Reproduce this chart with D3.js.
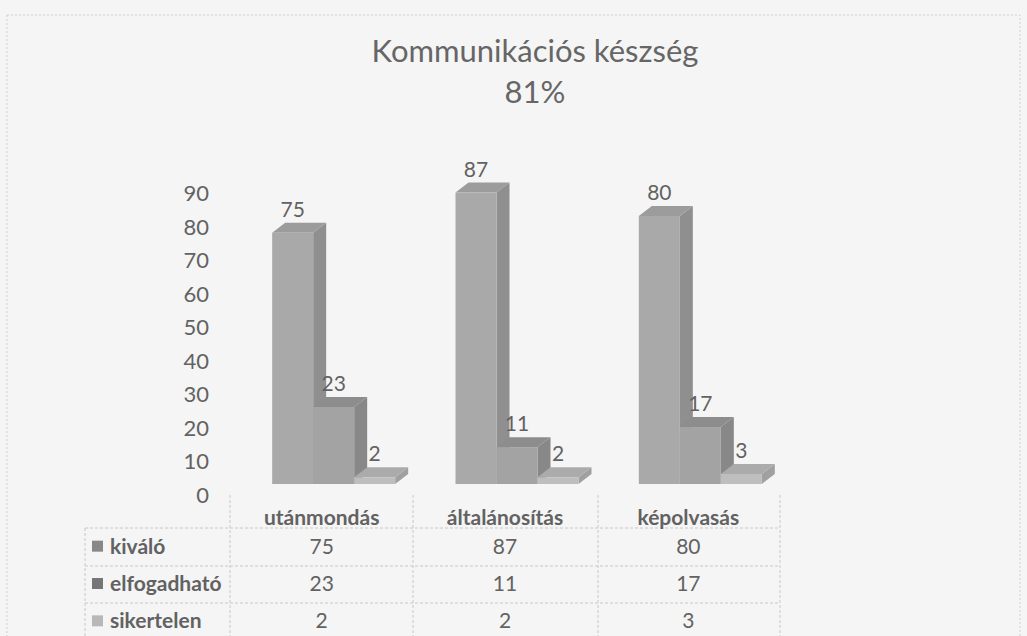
<!DOCTYPE html>
<html lang="hu">
<head>
    <meta charset="UTF-8">
    <title>Kommunikációs készség</title>
    <script src="https://d3js.org/d3.v7.min.js"></script>
    <style>
        body { margin: 0; background-color: #f5f5f5; }
        text { font-family: Lato, "Open Sans", sans-serif; fill: #626262; }
        .title { font-size: 31px; fill: #666; }
        .tick text { font-size: 22px; }
        .bar-label { font-size: 21px; }
        .table-text { font-size: 21px; }
        .table-head { font-weight: bold; }
        .grid-line { stroke: #c8c8c8; stroke-width: 1px; stroke-dasharray: 3,2; }
    </style>
</head>
<body>
    <svg width="1027" height="636"></svg>
    <script>
        // chart data
        const categories = ["utánmondás", "általánosítás", "képolvasás"];
        const seriesNames = ["kiváló", "elfogadható", "sikertelen"];
        const kivalo = [75, 87, 80];
        const elfogadhato = [23, 11, 17];
        const sikertelen = [2, 2, 3];
        const yTicks = [0, 10, 20, 30, 40, 50, 60, 70, 80, 90];
        const titleLines = ["Kommunikációs készség", "81%"];

        const seriesValues = [kivalo, elfogadhato, sikertelen];
        const colors = {
            "kiváló":      {front: "#a9a9a9", top: "#9c9c9c", side: "#8f8f8f", legend: "#888888"},
            "elfogadható": {front: "#a3a3a3", top: "#8d8d8d", side: "#888888", legend: "#767676"},
            "sikertelen":  {front: "#bebebe", top: "#ababab", side: "#a0a0a0", legend: "#b8b8b8"}
        };

        const svg = d3.select("svg");

        // chart border
        svg.append("rect")
            .attr("x", 7).attr("y", 15)
            .attr("width", 1013).attr("height", 640)
            .attr("fill", "none")
            .attr("stroke", "#cfcfcf")
            .attr("stroke-dasharray", "2,2");

        // title
        svg.append("g").selectAll("text")
            .data(titleLines)
            .enter().append("text")
            .attr("class", "title")
            .attr("x", 535)
            .attr("y", (d, i) => 62 + i * 41)
            .attr("text-anchor", "middle")
            .text(d => d);

        // scales
        const depthX = 13, depthY = -10;
        const xCat = d3.scaleBand().domain(categories).range([230, 780]);
        const groupWidth = 123;
        const xSeries = d3.scaleBand().domain(seriesNames).range([0, groupWidth]);
        const y = d3.scaleLinear().domain([0, 90]).range([484, 484 - 90 * 3.35]);
        const yLabels = d3.scaleLinear().domain([0, 90]).range([495, 495 - 90 * 3.35]);

        // y axis (labels only)
        svg.append("g")
            .attr("transform", "translate(209,0)")
            .call(d3.axisLeft(yLabels).tickValues(yTicks).tickSize(0).tickPadding(0))
            .call(g => g.select(".domain").remove())
            .selectAll("text")
            .attr("font-family", null)
            .attr("font-size", null)
            .attr("fill", null);

        // bars
        const bars = [];
        categories.forEach((c, ci) => {
            seriesNames.forEach((s, si) => {
                const x0 = xCat(c) + xCat.bandwidth() / 2 + 12 - groupWidth / 2 + xSeries(s);
                bars.push({cat: c, series: s, value: seriesValues[si][ci], x: x0, w: xSeries.bandwidth()});
            });
        });

        const barG = svg.append("g").selectAll("g")
            .data(bars)
            .enter().append("g");

        barG.append("path")
            .attr("fill", d => colors[d.series].side)
            .attr("d", d => {
                const x1 = d.x + d.w, yt = y(d.value), yb = y(0);
                return `M${x1},${yt}L${x1 + depthX},${yt + depthY}L${x1 + depthX},${yb + depthY}L${x1},${yb}Z`;
            });
        barG.append("path")
            .attr("fill", d => colors[d.series].top)
            .attr("d", d => {
                const yt = y(d.value);
                return `M${d.x},${yt}L${d.x + depthX},${yt + depthY}L${d.x + d.w + depthX},${yt + depthY}L${d.x + d.w},${yt}Z`;
            });
        barG.append("rect")
            .attr("fill", d => colors[d.series].front)
            .attr("x", d => d.x)
            .attr("y", d => y(d.value))
            .attr("width", d => d.w)
            .attr("height", d => y(0) - y(d.value));

        // value labels
        svg.append("g").selectAll("text")
            .data(bars)
            .enter().append("text")
            .attr("class", "bar-label")
            .attr("x", d => d.x + d.w / 2)
            .attr("y", d => y(d.value) + depthY - 6)
            .attr("text-anchor", "middle")
            .text(d => d.value);

        // data table
        const rowY = d3.scaleBand().domain(seriesNames).range([528, 640]);
        const table = svg.append("g");

        [528, 566, 603].forEach(ly => {
            table.append("line").attr("class", "grid-line")
                .attr("x1", 85).attr("x2", 780).attr("y1", ly).attr("y2", ly);
        });
        [230, 413, 598, 780].forEach(lx => {
            table.append("line").attr("class", "grid-line")
                .attr("x1", lx).attr("x2", lx).attr("y1", 495).attr("y2", 636);
        });
        table.append("line").attr("class", "grid-line")
            .attr("x1", 85).attr("x2", 85).attr("y1", 528).attr("y2", 636);

        table.selectAll(".cat-head")
            .data(categories)
            .enter().append("text")
            .attr("class", "table-text table-head cat-head")
            .attr("x", d => xCat(d) + xCat.bandwidth() / 2)
            .attr("y", 525)
            .attr("text-anchor", "middle")
            .text(d => d);

        const rows = table.selectAll(".row")
            .data(seriesNames)
            .enter().append("g")
            .attr("class", "row")
            .attr("transform", d => `translate(0,${rowY(d) + rowY.bandwidth() / 2})`);

        rows.append("rect")
            .attr("x", 92).attr("y", -6)
            .attr("width", 11).attr("height", 11)
            .attr("fill", d => colors[d].legend);
        rows.append("text")
            .attr("class", "table-text table-head")
            .attr("x", 110).attr("y", 7)
            .text(d => d);

        rows.each(function(s, si) {
            d3.select(this).selectAll(".cell")
                .data(seriesValues[si])
                .enter().append("text")
                .attr("class", "table-text cell")
                .attr("x", (v, ci) => xCat(categories[ci]) + xCat.bandwidth() / 2)
                .attr("y", 7)
                .attr("text-anchor", "middle")
                .text(v => v);
        });
    </script>
</body>
</html>
